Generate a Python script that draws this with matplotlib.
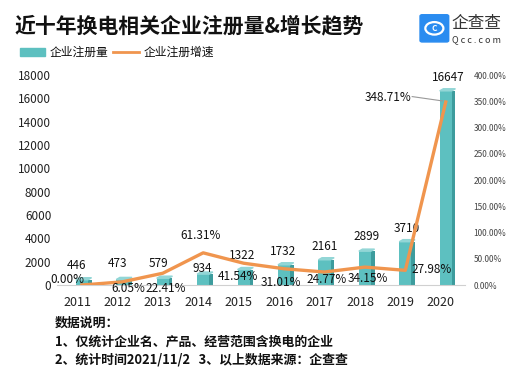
import matplotlib
matplotlib.use('Agg')
import matplotlib.pyplot as plt
from matplotlib.patches import Polygon, FancyBboxPatch, Circle

plt.rcParams['font.family'] = ['Noto Sans CJK SC', 'DejaVu Sans']

years = ['2011', '2012', '2013', '2014', '2015', '2016', '2017', '2018', '2019', '2020']
registrations = [446, 473, 579, 934, 1322, 1732, 2161, 2899, 3710, 16647]
growth = [0.00, 6.05, 22.41, 61.31, 41.54, 31.01, 24.77, 34.15, 27.98, 348.71]
growth_labels = ['0.00%', '6.05%', '22.41%', '61.31%', '41.54%', '31.01%',
                 '24.77%', '34.15%', '27.98%', '348.71%']
left_ticks = [0, 2000, 4000, 6000, 8000, 10000, 12000, 14000, 16000, 18000]
right_ticks = [0, 50, 100, 150, 200, 250, 300, 350, 400]

# label placement
bar_lbl_dx = [-0.125, -0.11, -0.1, -0.03, -0.04, -0.03, 0.01, 0.03, 0.04, 0.06]
bar_lbl_dy = [1270, 1330, 1300, 440, 1250, 1180, 1180, 1220, 1170, 1180]
pct_lbl_x = [-0.23, 1.28, 2.2, 3.06, 3.98, 5.04, 6.18, 7.2, 8.76, 7.69]
pct_lbl_y = [11.4, -6.5, -6.5, 95, 17, 5.7, 11.4, 13.3, 30.5, 358]

teal_front = '#5dc0c0'
teal_side = '#3d9c9d'
teal_top = '#92d6d6'
orange = '#f0954e'

fig = plt.figure(figsize=(5.31, 3.68), dpi=100)
fig.patch.set_facecolor('white')
ax = fig.add_axes([0.107, 0.2255, 0.769, 0.5705])

x = list(range(len(years)))
off = 0.12
bw = 0.3
sw = 0.09
xs = [i + off for i in x]

ax.bar(xs, registrations, width=bw, color=teal_front, zorder=2)
side_x = [v + bw / 2 + sw / 2 for v in xs]
ax.bar(side_x, registrations, width=sw, color=teal_side, zorder=2)
for xc, h in zip(xs, registrations):
    x0 = xc - bw / 2
    x1 = xc + bw / 2
    d = 180
    ax.add_patch(Polygon([[x0, h], [x1, h], [x1 + sw, h + d], [x0 + sw, h + d]],
                         closed=True, color=teal_top, zorder=2))

ax.set_xlim(-0.5, 9.6)
ax.set_ylim(0, 18000)
ax.set_yticks(left_ticks)
ax.set_yticklabels([str(v) for v in left_ticks], fontsize=8.5, color='#222222')
ax.set_xticks(x)
ax.set_xticklabels(years, fontsize=9, color='#222222')
ax.tick_params(length=0, pad=4)
ax.tick_params(axis='x', pad=8)
for s in ['top', 'right', 'left']:
    ax.spines[s].set_visible(False)
ax.spines['bottom'].set_color('#d0d0d0')

ax2 = ax.twinx()
ax2.set_ylim(0, 400)
ax2.plot(xs, growth, color=orange, linewidth=2.4, zorder=3)
ax2.set_yticks(right_ticks)
ax2.set_yticklabels(['%.2f%%' % v for v in right_ticks], fontsize=6, color='#444444')
ax2.tick_params(length=0, pad=6)
for s in ['top', 'right', 'left', 'bottom']:
    ax2.spines[s].set_visible(False)

for i, v in enumerate(registrations):
    ax.text(xs[i] + bar_lbl_dx[i], v + bar_lbl_dy[i], str(v), ha='center', va='center',
            fontsize=8.5, color='#111111', zorder=5)

for i, lab in enumerate(growth_labels):
    ax2.text(pct_lbl_x[i], pct_lbl_y[i], lab, ha='center', va='center',
             fontsize=8.5, color='#111111', zorder=5)

# leader line from the last percent label to its point
ax2.plot([pct_lbl_x[-1] + 0.6, xs[-1] - 0.08], [pct_lbl_y[-1] + 1, growth[-1] + 2],
         color='#999999', linewidth=0.8, zorder=4)

# title and legend
fig.text(0.028, 0.93, '近十年换电相关企业注册量&增长趋势', fontsize=15, fontweight='bold',
         ha='left', va='center', color='#111111')
fig.patches.append(Polygon([[0.038, 0.849], [0.085, 0.849], [0.085, 0.869], [0.038, 0.869]],
                           closed=True, transform=fig.transFigure, color=teal_front))
fig.text(0.094, 0.859, '企业注册量', fontsize=8.5, ha='left', va='center', color='#111111')
fig.lines.append(plt.Line2D([0.212, 0.262], [0.859, 0.859], transform=fig.transFigure,
                            color=orange, linewidth=2))
fig.text(0.27, 0.859, '企业注册增速', fontsize=8.5, ha='left', va='center', color='#111111')

# logo
fig.patches.append(FancyBboxPatch((0.795, 0.89), 0.046, 0.066, boxstyle='round,pad=0.004',
                                  transform=fig.transFigure, color='#2a8cf0'))
fig.patches.append(Circle((0.818, 0.923), 0.017, transform=fig.transFigure,
                          fill=False, edgecolor='white', linewidth=1.6))
fig.text(0.818, 0.923, 'C', fontsize=6, fontweight='bold', color='white', ha='center', va='center')
fig.text(0.851, 0.937, '企查查', fontsize=12, ha='left', va='center', color='#333333')
fig.text(0.852, 0.891, 'Q c c . c o m', fontsize=6.5, ha='left', va='center', color='#333333')

# notes
notes = ['数据说明：', '1、仅统计企业名、产品、经营范围含换电的企业',
         '2、统计时间2021/11/2   3、以上数据来源：企查查']
for k, t in enumerate(notes):
    fig.text(0.104, 0.122 - k * 0.05, t, fontsize=9.3, fontweight='bold',
             ha='left', va='center', color='#111111')

fig.savefig('out.png', dpi=100)
